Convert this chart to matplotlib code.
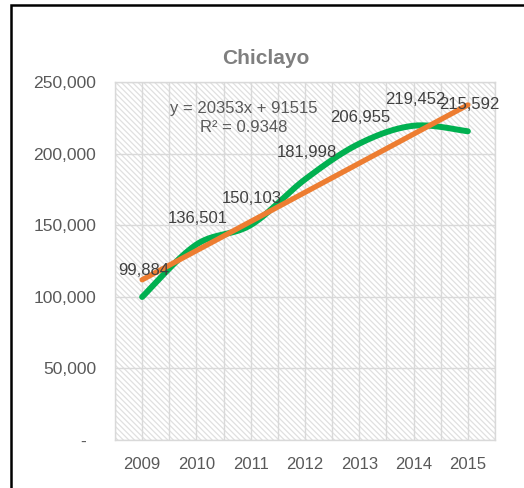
import numpy as np
import matplotlib
matplotlib.use("Agg")
import matplotlib.pyplot as plt
from matplotlib.patches import Rectangle
from matplotlib.ticker import FuncFormatter

plt.rcParams['font.family'] = ['Liberation Sans', 'DejaVu Sans']
plt.rcParams['hatch.linewidth'] = 0.9

years = ['2009', '2010', '2011', '2012', '2013', '2014', '2015']
values = [99884, 136501, 150103, 181998, 206955, 219452, 215592]
slope = 20353
intercept = 91515
r2 = 0.9348
title = 'Chiclayo'
yticks = [0, 50000, 100000, 150000, 200000, 250000]

W, H = 524, 488
fig = plt.figure(figsize=(W / 100, H / 100), dpi=100)
fig.patch.set_facecolor('white')

# chart border (extends beyond the image on right and bottom)
fig.patches.append(Rectangle((10.5 / W, -0.1), 1.2, (H - 5.5) / H + 0.1,
                             transform=fig.transFigure, fill=False,
                             edgecolor='black', linewidth=1.8))

ax = fig.add_axes([115 / W, (H - 440) / H, 380 / W, 358 / H])
ax.set_facecolor('white')
ax.add_patch(Rectangle((0, 0), 1, 1, transform=ax.transAxes, facecolor='white',
                       edgecolor='#e0e0e0', hatch='\\\\\\\\\\\\', linewidth=0, zorder=0))

x = np.arange(len(values))
y = np.array(values, dtype=float)

# Excel-style smoothed line (Catmull-Rom Bezier)
def smooth(xs, ys, n=40):
    P = np.column_stack([xs, ys]).astype(float)
    Pext = np.vstack([P[0], P, P[-1]])
    out = []
    for i in range(len(P) - 1):
        p0, p1, p2, p3 = Pext[i], Pext[i + 1], Pext[i + 2], Pext[i + 3]
        c1 = p1 + (p2 - p0) / 6
        c2 = p2 - (p3 - p1) / 6
        t = np.linspace(0, 1, n)[:, None]
        seg = (1 - t) ** 3 * p1 + 3 * (1 - t) ** 2 * t * c1 + 3 * (1 - t) * t ** 2 * c2 + t ** 3 * p2
        out.append(seg if i == 0 else seg[1:])
    s = np.vstack(out)
    return s[:, 0], s[:, 1]

sx, sy = smooth(x, y)
ax.plot(sx, sy, color='#00B050', linewidth=4.3, solid_capstyle='round', zorder=3)

tx = np.array([x[0], x[-1]], dtype=float)
ty = slope * (tx + 1) + intercept
ax.plot(tx, ty, color='#ED7D31', linewidth=3.8, solid_capstyle='round', zorder=4)

for xi, yi in zip(x, values):
    ax.annotate(f'{yi:,}', (xi, yi), xytext=(1, 19), textcoords='offset points',
                ha='center', va='center', fontsize=12, color='#404040', zorder=5)

ax.set_xlim(-0.5, len(values) - 0.5)
ax.set_ylim(0, 250000)
ax.set_xticks(x)
ax.set_xticklabels(years)
ax.set_yticks(yticks)
ax.yaxis.set_major_formatter(FuncFormatter(lambda v, p: '-  ' if v == 0 else f'{int(v):,}'))
ax.set_xticks(np.arange(-0.5, len(values), 0.5), minor=True)
ax.grid(True, axis='x', which='minor', color='#d9d9d9', linewidth=1)
ax.grid(True, axis='x', which='major', color='#d9d9d9', linewidth=1)
ax.grid(True, axis='y', which='major', color='#d9d9d9', linewidth=1)
ax.set_axisbelow(True)
ax.tick_params(axis='both', which='both', length=0, labelsize=12, colors='#595959')
ax.tick_params(axis='y', pad=13.5, labelsize=12.6)
ax.tick_params(axis='x', pad=12)
for s in ax.spines.values():
    s.set_color('#d9d9d9')
    s.set_linewidth(1)

fig.text(266 / W, (H - 58) / H, title, ha='center', va='center',
         fontsize=15, fontweight='bold', color='#7f7f7f')
fig.text(243.5 / W, (H - 109) / H, f'y = {slope}x + {intercept}', ha='center', va='center',
         fontsize=12, color='#595959')
fig.text(243.5 / W, (H - 127) / H, f'R² = {r2}', ha='center', va='center',
         fontsize=12, color='#595959')

fig.savefig('out.png', dpi=100)
